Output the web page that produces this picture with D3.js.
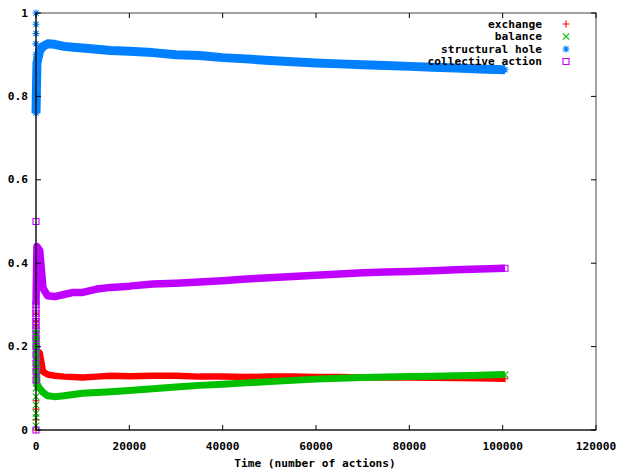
<!DOCTYPE html>
<html><head><meta charset="utf-8">
<script src="https://cdn.jsdelivr.net/npm/d3@7"></script>
<style>
body{margin:0;background:#fff;}
text{font-family:"DejaVu Sans Mono",monospace;font-weight:bold;font-size:11.2px;fill:#000;}
</style></head>
<body><svg id="chart" width="617" height="470"></svg>
<script>
// ---- data ----
const seriesNames = ["exchange", "balance", "structural hole", "collective action"];
const xValues = [0, 200, 800, 1500, 2500, 4000, 6000, 8000, 10000, 13000, 16000, 20000, 25000, 30000, 35000, 40000, 45000, 50000, 55000, 60000, 65000, 70000, 75000, 80000, 85000, 90000, 95000, 100500];
const exchangeValues = [0.14, 0.19, 0.185, 0.14, 0.133, 0.13, 0.128, 0.127, 0.126, 0.128, 0.13, 0.129, 0.13, 0.13, 0.128, 0.128, 0.127, 0.128, 0.128, 0.127, 0.127, 0.126, 0.126, 0.126, 0.125, 0.125, 0.124, 0.123];
const balanceValues = [0.24, 0.11, 0.10, 0.09, 0.082, 0.08, 0.082, 0.085, 0.088, 0.09, 0.092, 0.095, 0.099, 0.103, 0.107, 0.11, 0.113, 0.116, 0.119, 0.122, 0.124, 0.126, 0.127, 0.128, 0.129, 0.13, 0.131, 0.133];
const structuralValues = [0.76, 0.88, 0.91, 0.92, 0.926, 0.925, 0.92, 0.918, 0.916, 0.913, 0.91, 0.908, 0.905, 0.90, 0.898, 0.893, 0.89, 0.886, 0.883, 0.88, 0.878, 0.876, 0.874, 0.872, 0.87, 0.868, 0.866, 0.864];
const collectiveValues = [0.30, 0.44, 0.43, 0.34, 0.322, 0.32, 0.325, 0.33, 0.33, 0.338, 0.342, 0.345, 0.35, 0.352, 0.355, 0.358, 0.362, 0.365, 0.368, 0.371, 0.374, 0.377, 0.379, 0.38, 0.382, 0.384, 0.386, 0.388];
// scattered first samples (at time 0)
const exchangeEarly = [0.28, 0.26, 0.25, 0.22, 0.2, 0.07, 0.05, 0.025, 0.0];
const balanceEarly = [0.24, 0.22, 0.2, 0.16, 0.12, 0.1, 0.08, 0.06, 0.04, 0.03, 0.01];
const structuralEarly = [1.0, 0.973, 0.951, 0.926, 0.9, 0.85, 0.8, 0.76];
const collectiveEarly = [0.5, 0.3, 0.29, 0.28, 0.27, 0.26, 0.25, 0.24, 0.22, 0.2, 0.18, 0.16, 0.14, 0.12, 0.0];
const xTicks = [0, 20000, 40000, 60000, 80000, 100000, 120000];
const yTicks = [0, 0.2, 0.4, 0.6, 0.8, 1];
const yTickLabels = ["0", "0.2", "0.4", "0.6", "0.8", "1"];
const xTitle = "Time (number of actions)";

// ---- drawing ----
const svg = d3.select("#chart");
const L = 36, R = 596, T = 13, B = 430;
const x = d3.scaleLinear().domain([0, 120000]).range([L, R]);
const y = d3.scaleLinear().domain([0, 1]).range([B, T]);

const colors = ["#ff0000", "#00c000", "#0080ff", "#c000ff"];
const widths = [6.5, 7, 9, 7.5];
const symbols = ["plus", "cross", "star", "square"];
const valuesList = [exchangeValues, balanceValues, structuralValues, collectiveValues];
const earlyList = [exchangeEarly, balanceEarly, structuralEarly, collectiveEarly];

function drawSymbol(g, type, cx, cy, color) {
  const s = 3.5;
  const p = d3.path();
  if (type === "plus" || type === "star") {
    p.moveTo(cx - s, cy); p.lineTo(cx + s, cy);
    p.moveTo(cx, cy - s); p.lineTo(cx, cy + s);
  }
  if (type === "cross" || type === "star") {
    const d = type === "star" ? 2.6 : 3.2;
    p.moveTo(cx - d, cy - d); p.lineTo(cx + d, cy + d);
    p.moveTo(cx - d, cy + d); p.lineTo(cx + d, cy - d);
  }
  if (type === "square") {
    p.rect(cx - 3, cy - 3, 6, 6);
  }
  g.append("path").attr("d", p.toString()).attr("fill", "none")
    .attr("stroke", color).attr("stroke-width", 1.1);
}

const dataG = svg.append("g");
const line = d3.line().x((d, i) => x(xValues[i])).y(d => y(d));
valuesList.forEach((vals, k) => {
  const g = dataG.append("g");
  g.append("path").attr("d", line(vals)).attr("fill", "none")
    .attr("stroke", colors[k]).attr("stroke-width", widths[k])
    .attr("stroke-linejoin", "round");
  earlyList[k].forEach(v => drawSymbol(g, symbols[k], x(0), y(v), colors[k]));
  drawSymbol(g, symbols[k], x(xValues[xValues.length - 1]), y(vals[vals.length - 1]), colors[k]);
});

// border and ticks
const axG = svg.append("g");
axG.append("rect").attr("x", L).attr("y", T).attr("width", R - L).attr("height", B - T)
  .attr("fill", "none").attr("stroke", "#444").attr("stroke-width", 1);
axG.append("line").attr("x1", L).attr("x2", L).attr("y1", T).attr("y2", B).attr("stroke", "#000");
axG.append("line").attr("x1", L).attr("x2", R).attr("y1", B).attr("y2", B).attr("stroke", "#000");
const tl = 5;
xTicks.forEach(t => {
  axG.append("line").attr("x1", x(t)).attr("x2", x(t)).attr("y1", B).attr("y2", B - tl).attr("stroke", "#000");
  axG.append("line").attr("x1", x(t)).attr("x2", x(t)).attr("y1", T).attr("y2", T + tl).attr("stroke", "#000");
  axG.append("text").attr("x", x(t)).attr("y", 446).attr("text-anchor", "middle")
    .attr("dominant-baseline", "central").text(d3.format("d")(t));
});
yTicks.forEach((t, i) => {
  axG.append("line").attr("x1", L).attr("x2", L + tl).attr("y1", y(t)).attr("y2", y(t)).attr("stroke", "#000");
  axG.append("line").attr("x1", R).attr("x2", R - tl).attr("y1", y(t)).attr("y2", y(t)).attr("stroke", "#000");
  axG.append("text").attr("x", 28).attr("y", y(t)).attr("text-anchor", "end")
    .attr("dominant-baseline", "central").text(yTickLabels[i]);
});
svg.append("text").attr("x", 315).attr("y", 463).attr("text-anchor", "middle")
  .attr("dominant-baseline", "central").text(xTitle);

// legend
const legY = [24, 36.5, 49, 61.5];
seriesNames.forEach((n, k) => {
  svg.append("text").attr("x", 542).attr("y", legY[k]).attr("text-anchor", "end")
    .attr("dominant-baseline", "central").text(n);
  drawSymbol(svg, symbols[k], 566, legY[k], colors[k]);
});
</script></body></html>
